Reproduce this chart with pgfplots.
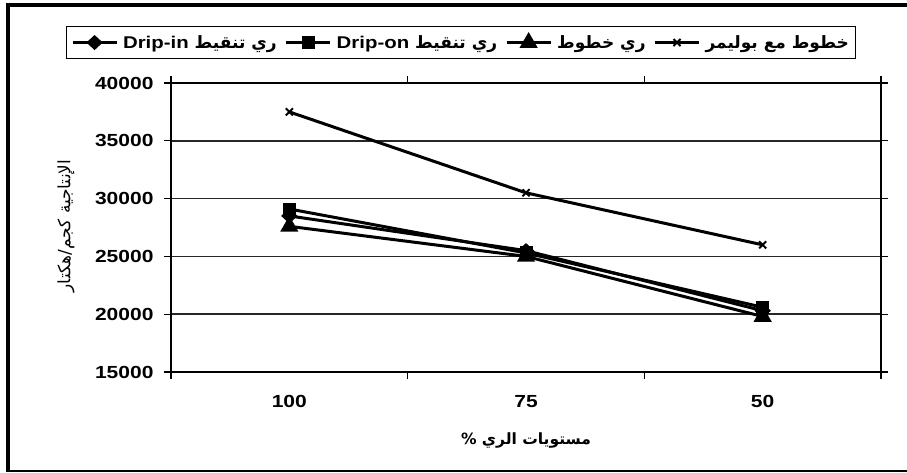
\documentclass[border=0pt]{standalone}
\usepackage{fontspec}
\setmainfont{Liberation Sans}[FakeStretch=1.2]
\newfontfamily\arabicfont[Script=Arabic]{DejaVu Sans}
\usepackage{pgfplots}
\pgfplotsset{compat=1.18}
\TeXXeTstate=1
\begin{document}
\begin{tikzpicture}[x=1pt,y=1pt]
\useasboundingbox (0,0) rectangle (907,472);
\draw[line width=4pt] (907,466.5) -- (8,466.5) -- (8,0);
\draw[line width=2.5pt] (6,1.25) -- (907,1.25);
\begin{axis}[
  at={(171pt,100pt)}, anchor=south west,
  scale only axis, width=710pt, height=289pt,
  xmin=-0.5, xmax=2.5, ymin=15000, ymax=40000,
  xtick={-0.5,0.5,1.5,2.5}, xticklabels={},
  extra x ticks={0,1,2}, extra x tick labels={100,75,50},
  extra x tick style={major tick length=0pt, xticklabel style={yshift=-20pt}},
  ytick={15000,20000,...,40000},
  scaled y ticks=false,
  yticklabel style={xshift=-7pt},
  ymajorgrids, grid style={black!85, line width=1.5pt},
  axis line style={black, line width=1.5pt},
  tick style={black, line width=1.3pt},
  tick align=outside, major tick length=7pt,
  ticklabel style={font=\fontsize{17.5}{20}\selectfont\bfseries},
  /pgf/number format/assume math mode=true,
  /pgf/number format/1000 sep={},
  xlabel={\arabicfont\bfseries\beginR مستويات الري \%\endR},
  xlabel style={at={(rel axis cs:0.5,-0.2353)}, anchor=center, font=\fontsize{15.5}{18}\selectfont},
  ylabel={\arabicfont\beginR الإنتاجية كجم/هكتار\endR},
  ylabel style={at={(rel axis cs:-0.148,0.505)}, anchor=center, font=\fontsize{17}{20}\selectfont},
  legend columns=4,
  legend style={at={(rel axis cs:0.4085,1.140)}, anchor=center, draw=black, line width=1pt,
    font=\fontsize{17}{20}\selectfont\bfseries, inner xsep=5pt, inner ysep=7pt,
    /tikz/every even column/.append style={column sep=6pt},
    /tikz/every odd column/.append style={column sep=3pt}},
  legend image code/.code={\draw[mark repeat=2,mark phase=2] plot coordinates {(0pt,0pt)(22pt,0pt)(44pt,0pt)};},
  every axis plot/.append style={black, line width=3pt},
]
\addplot[mark=diamond*, mark size=5.5pt, mark options={xscale=1.45, solid}] coordinates {(0,28500) (1,25500) (2,20300)};
\addlegendentry{\arabicfont\bfseries\beginR ري تنقيط \beginL{\normalfont\bfseries Drip-in}\endL\endR}
\addplot[mark=square*, mark size=5pt, mark options={solid}] coordinates {(0,29100) (1,25300) (2,20600)};
\addlegendentry{\arabicfont\bfseries\beginR ري تنقيط \beginL{\normalfont\bfseries Drip-on}\endL\endR}
\addplot[mark=triangle*, mark size=7.5pt, mark options={solid}] coordinates {(0,27600) (1,25000) (2,19800)};
\addlegendentry{\arabicfont\bfseries\beginR ري خطوط\endR}
\addplot[mark=x, mark size=5pt, mark options={solid, line width=2pt}] coordinates {(0,37500) (1,30500) (2,26000)};
\addlegendentry{\arabicfont\bfseries\beginR خطوط مع بوليمر\endR}
\end{axis}
\end{tikzpicture}
\end{document}
